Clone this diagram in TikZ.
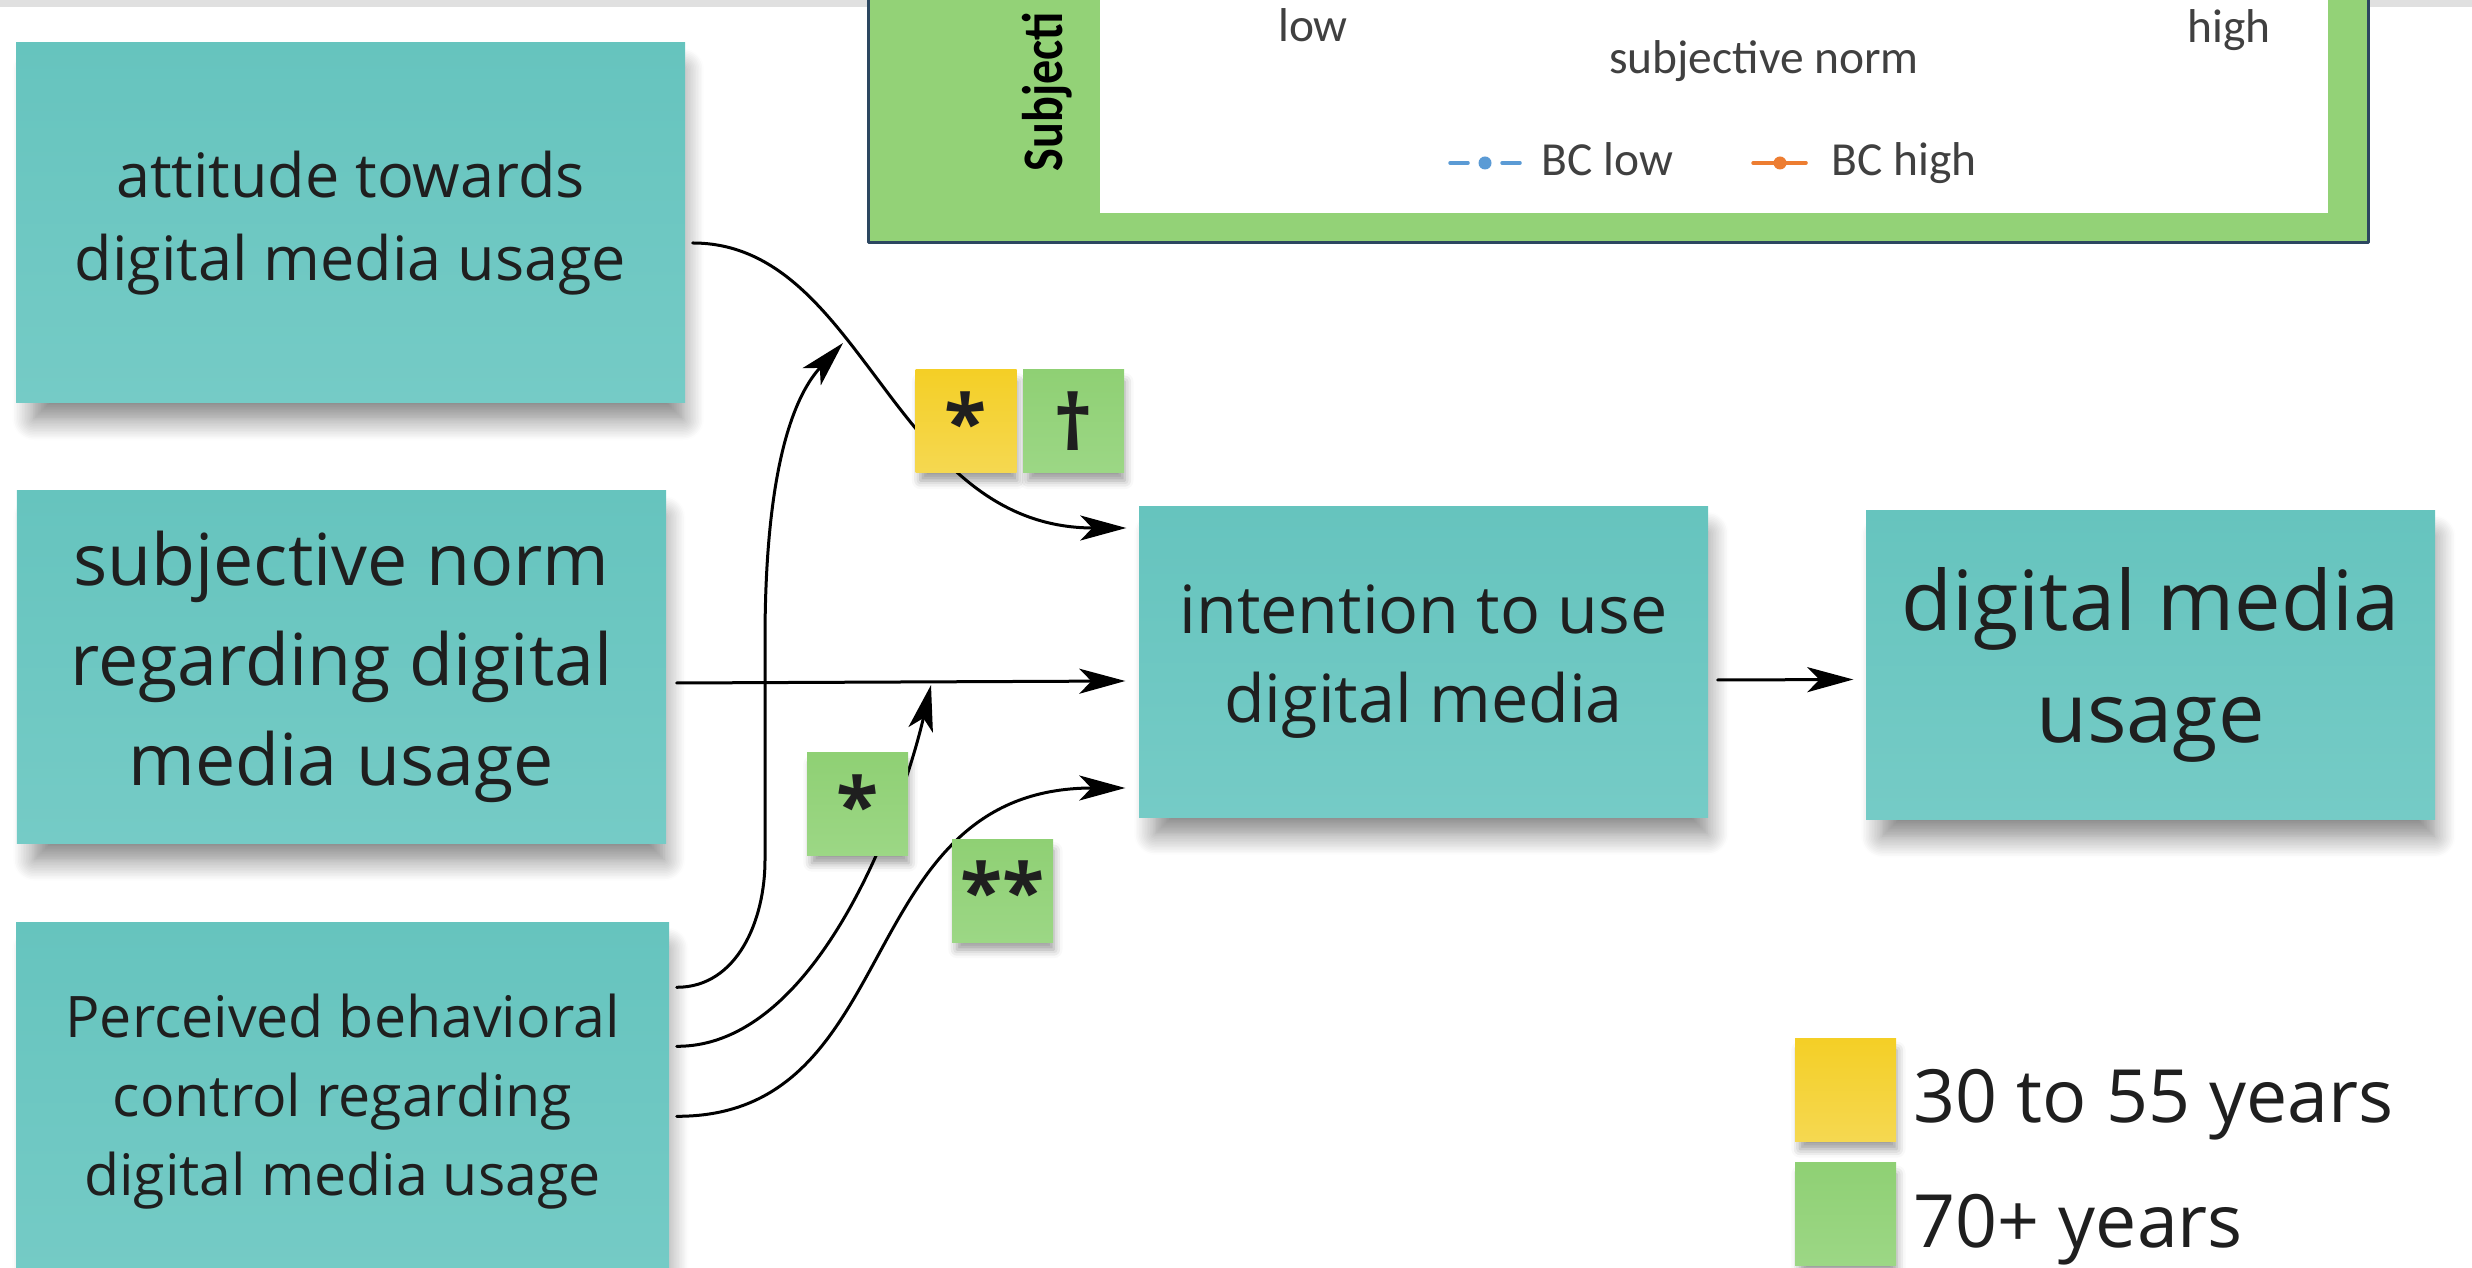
\documentclass[tikz,border=0pt]{standalone}
\usepackage{fontspec}
\setmainfont{Open Sans}
\newfontfamily\chartfont{Carlito}
\usetikzlibrary{arrows.meta,shadows.blur}
\definecolor{stickyteal}{HTML}{66C4BE}
\definecolor{stickytealhi}{HTML}{75CBC6}
\definecolor{stickyyellow}{HTML}{F4CF26}
\definecolor{stickyyellowhi}{HTML}{F5D851}
\definecolor{stickygreen}{HTML}{8FD074}
\definecolor{stickygreenhi}{HTML}{9CD785}
\definecolor{panelgreen}{HTML}{93D277}
\definecolor{panelborder}{HTML}{2C4760}
\definecolor{charttext}{HTML}{404040}
\definecolor{bclow}{HTML}{5B9BD5}
\definecolor{bchigh}{HTML}{ED7D31}
\begin{document}
\begin{tikzpicture}[line join=round, line cap=round, >={Stealth[length=4.6mm,width=2.5mm,inset=1.2mm]},
		note/.style={rectangle, inner sep=0pt, align=center, text=black!88, top color=stickyteal, bottom color=stickytealhi,
			blur shadow={shadow xshift=0.8mm, shadow yshift=-2.2mm, shadow scale=0.97, shadow opacity=50, shadow blur radius=2.2mm, shadow blur steps=14}},
		tag/.style={rectangle, inner sep=0pt, minimum width=1.01cm, minimum height=1.03cm, text=black!88,
			font=\bfseries\fontsize{22}{26}\selectfont,
			blur shadow={shadow xshift=0.3mm, shadow yshift=-1mm, shadow scale=0.96, shadow opacity=40, shadow blur radius=0.9mm}},
		yellowtag/.style={tag, top color=stickyyellow, bottom color=stickyyellowhi},
		greentag/.style={tag, top color=stickygreen, bottom color=stickygreenhi},
		chartlab/.style={font=\chartfont\fontsize{13.5}{16}\selectfont, text=charttext, inner sep=0pt},
		link/.style={->, line width=0.3mm, black}]
	\useasboundingbox (0,0) rectangle (24.72,12.67);
	\fill[black!12] (0,12.6) rectangle (24.72,12.67);

	% chart panel
	\begin{scope}
		\clip (8.65,10.2) rectangle (23.71,12.67);
		\draw[fill=panelgreen, draw=panelborder, line width=0.3mm] (8.68,10.24) rectangle (23.68,12.9);
		\fill[white] (11.00,10.54) rectangle (23.28,12.9);
		\node[rotate=90, xscale=0.84, transform shape, anchor=base west, inner sep=0pt, font=\chartfont\bfseries\fontsize{16.3}{18}\selectfont] (ylab) at (10.62,10.95) {Subjecti};
		\node[chartlab, anchor=base] (lowlab) at (13.13,12.25) {low};
		\node[chartlab, anchor=base] (highlab) at (22.29,12.24) {high};
		\node[chartlab, anchor=base] (xlab) at (17.64,11.93) {subjective norm};
		\draw[bclow, line width=0.35mm] (14.50,11.04) -- (14.68,11.04) (15.02,11.04) -- (15.20,11.04);
		\fill[bclow] (14.85,11.04) circle (0.065);
		\node[chartlab, anchor=base west] (lowkey) at (15.41,10.91) {BC low};
		\draw[bchigh, line width=0.35mm] (17.53,11.04) -- (18.06,11.04);
		\fill[bchigh] (17.80,11.04) circle (0.065);
		\node[chartlab, anchor=base west] (highkey) at (18.31,10.91) {BC high};
	\end{scope}

	% sticky notes
	\node[note, minimum width=6.69cm, minimum height=3.60cm, font=\fontsize{17.4}{23.6}\selectfont] (att) at (3.505,10.44) {attitude towards\\digital media usage};
	\node[note, minimum width=6.49cm, minimum height=3.53cm, font=\fontsize{20.4}{28.4}\selectfont] (norm) at (3.415,6.00) {subjective norm\\regarding digital\\media usage};
	\node[note, minimum width=6.53cm, minimum height=3.60cm, font=\fontsize{16.3}{22.5}\selectfont] (pbc) at (3.425,1.65) {Perceived behavioral\\control regarding\\digital media usage};
	\node[note, minimum width=5.69cm, minimum height=3.10cm, font=\fontsize{18.9}{25.3}\selectfont] (int) at (14.235,6.05) {intention to use\\digital media};
	\node[note, minimum width=5.69cm, minimum height=3.09cm, font=\fontsize{23.6}{32.1}\selectfont] (use) at (21.505,6.02) {digital media\\usage};

	\coordinate (onatt) at (8.43,9.24);
	\coordinate (onnorm) at (9.31,5.82);

	\draw[link] ([xshift=0.7mm,yshift=-2mm]att.east) .. controls (8.65,10.24) and (8.92,7.39) .. ([xshift=-1.2mm,yshift=13.4mm]int.west);
	\draw[link] ([xshift=1mm,yshift=-1.6mm]norm.east) -- ([xshift=-1.3mm,yshift=-1.9mm]int.west);
	\draw[link] ([xshift=0.7mm,yshift=-6.6mm]pbc.north east) to[out=0,in=-90] (7.65,4.07) -- (7.65,6.27) .. controls (7.65,7.87) and (7.90,8.67) .. (onatt);
	\draw[link] ([xshift=0.7mm,yshift=-12.5mm]pbc.north east) .. controls (8.20,2.20) and (9.04,4.65) .. (onnorm);
	\draw[link] ([xshift=0.7mm,yshift=-19.5mm]pbc.north east) .. controls (9.07,1.50) and (8.49,4.79) .. ([xshift=-1.3mm,yshift=-12.6mm]int.west);
	\draw[link] ([xshift=0.9mm,yshift=-1.8mm]int.east) -- ([xshift=-1.2mm,yshift=-1.45mm]use.west);

	% significance tags
	\node[yellowtag] (sigatty) at (9.66,8.455) {*};
	\node[greentag] (sigatto) at (10.735,8.455) {†};
	\node[greentag] (signorm) at (8.575,4.63) {*};
	\node[greentag] (sigpbc) at (10.025,3.765) {**};

	% age groups
	\node[yellowtag] (keyyoung) at (18.455,1.77) {};
	\node[greentag] (keyold) at (18.455,0.53) {};
	\node[anchor=base west, inner sep=0pt, text=black!88, font=\fontsize{20.9}{24}\selectfont] (keyyounglab) at (19.13,1.45) {30 to 55 years};
	\node[anchor=base west, inner sep=0pt, text=black!88, font=\fontsize{20.9}{24}\selectfont] (keyoldlab) at (19.13,0.20) {70+ years};
\end{tikzpicture}
\end{document}
